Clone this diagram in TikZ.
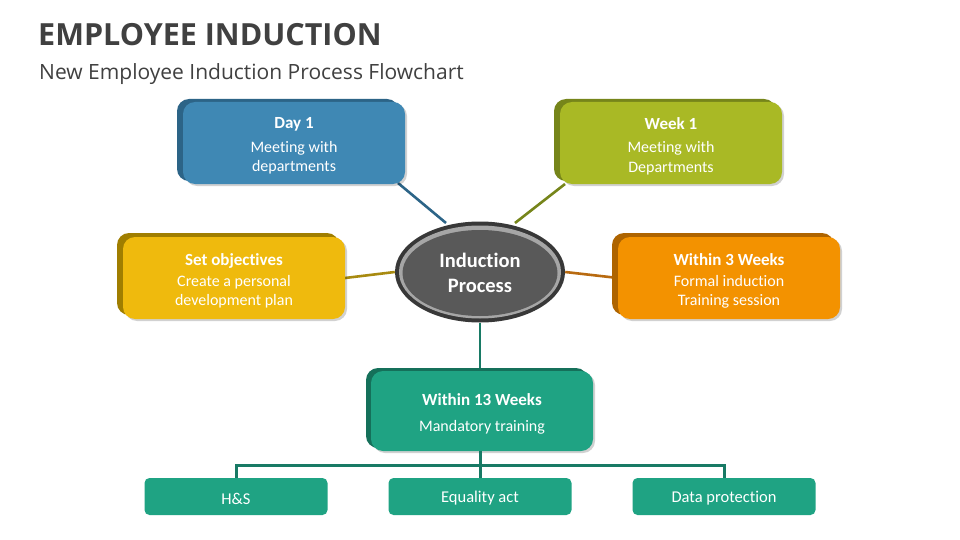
\documentclass[tikz,border=0pt]{standalone}
\usepackage{fontspec}
\setmainfont{Carlito}[Ligatures=NoCommon]
\newfontfamily\titlefont{Open Sans}
\usetikzlibrary{shapes.geometric}
\definecolor{ttl}{HTML}{404040}
\definecolor{bluef}{HTML}{3F88B4}
\definecolor{blueb}{HTML}{2C6487}
\definecolor{olivef}{HTML}{A9B925}
\definecolor{oliveb}{HTML}{76851A}
\definecolor{goldf}{HTML}{EFBA0D}
\definecolor{goldb}{HTML}{A07E00}
\definecolor{orangef}{HTML}{F39200}
\definecolor{orangeb}{HTML}{AE6400}
\definecolor{tealf}{HTML}{1FA383}
\definecolor{tealb}{HTML}{15705A}
\definecolor{teall}{HTML}{187A65}
\definecolor{goldl}{HTML}{A88A10}
\definecolor{orangel}{HTML}{B86A10}
\begin{document}
\begin{tikzpicture}[x=1pt,y=-1pt,
  card/.style={rectangle, rounded corners=12pt, minimum width=222pt, minimum height=82pt, inner sep=0pt},
  cardtext/.style={inner sep=0pt, text=white, align=center, font=\fontsize{16}{19.5}\selectfont, yshift=-3pt},
  shadowcard/.style={card, fill=black, opacity=0.18},
  leaf/.style={rectangle, rounded corners=5pt, minimum width=183pt, minimum height=37pt, inner sep=0pt, fill=tealf},
  leaftext/.style={inner sep=0pt, text=white, font=\fontsize{16.5}{19}\selectfont, yshift=-2pt},
  conn/.style={line width=2.6pt}
]
\useasboundingbox (0,0) rectangle (960,540);
\fill[white] (0,0) rectangle (960,540);

% titles
\node[anchor=base west, inner sep=0pt, text=ttl, font=\titlefont\bfseries\fontsize{30.5}{36}\selectfont] (title) at (38,46) {EMPLOYEE INDUCTION};
\node[anchor=base west, inner sep=0pt, text=ttl, font=\titlefont\fontsize{21}{25}\selectfont] (sub) at (39,80) {New Employee Induction Process Flowchart};

% central ellipse
\node[ellipse, minimum width=170pt, minimum height=101pt, fill=black!78] (c) at (480,272) {};
\node[ellipse, minimum width=162pt, minimum height=93pt, fill=black!35] (c2) at (480,272) {};
\node[ellipse, minimum width=155pt, minimum height=86pt, fill=black!65, text=white, align=center, font=\fontsize{20.5}{25}\selectfont\bfseries] (core) at (480,273) {Induction\\Process};

% connectors behind cards
\draw[conn, draw=blueb] (446,223) -- (398,183);
\draw[conn, draw=oliveb] (515,223) -- (565,184);
\draw[conn, draw=goldl] (c.west) -- (345,278);
\draw[conn, draw=orangel] (c.east) -- (618,278);
\draw[conn, draw=teall] (c.south) -- (480,371);

% Day 1
\node[shadowcard] (d1s) at (296,145) {};
\node[card, fill=blueb] (d1b) at (288,140) {};
\node[card, fill=bluef] (d1) at (294,143) {};
\node[cardtext] (d1t) at (d1.center) {\textbf{\fontsize{17}{20}\selectfont Day 1}\\[4pt]Meeting with\\departments};

% Week 1
\node[shadowcard] (w1s) at (673,145) {};
\node[card, fill=oliveb] (w1b) at (665,140) {};
\node[card, fill=olivef] (w1) at (671,143) {};
\node[cardtext] (w1t) at (w1.center) {\textbf{\fontsize{17}{20}\selectfont Week 1}\\[4pt]Meeting with\\Departments};

% Set objectives
\node[shadowcard] (sos) at (236,280) {};
\node[card, fill=goldb] (sob) at (228,274) {};
\node[card, fill=goldf] (so) at (234,278) {};
\node[cardtext] (sot) at (so.center) {\textbf{\fontsize{17}{20}\selectfont Set objectives}\\[1pt]Create a personal\\development plan};

% Within 3 weeks
\node[shadowcard] (w3s) at (731,280) {};
\node[card, fill=orangeb] (w3b) at (723,274) {};
\node[card, fill=orangef] (w3) at (729,278) {};
\node[cardtext] (w3t) at (w3.center) {\textbf{\fontsize{17}{20}\selectfont Within 3 Weeks}\\[1pt]Formal induction\\Training session};

% Within 13 weeks
\node[shadowcard, minimum height=80pt] (w13s) at (484,413) {};
\node[card, fill=tealb, minimum height=80pt] (w13b) at (477,408) {};
\node[card, fill=tealf, minimum height=80pt] (w13) at (482,411) {};
\node[cardtext] (w13t) at (w13.center) {\textbf{\fontsize{17}{20}\selectfont Within 13 Weeks}\\[7pt]Mandatory training};

% leaves
\node[leaf] (hs) at (236,496.5) {};
\node[leaf] (eq) at (480,496.5) {};
\node[leaf] (dp) at (724,496.5) {};
\node[leaftext] (hst) at (hs.center) {H\&S};
\node[leaftext] (eqt) at (eq.center) {Equality act};
\node[leaftext] (dpt) at (dp.center) {Data protection};

\coordinate (j) at (480,465);
\draw[conn, draw=teall, line width=3pt] (w13.south -| j) -- (j);
\draw[conn, draw=teall, line width=3pt] (hs.north) |- (j) -| (dp.north);
\draw[conn, draw=teall, line width=3pt] (j) -- (eq.north);
\end{tikzpicture}
\end{document}
